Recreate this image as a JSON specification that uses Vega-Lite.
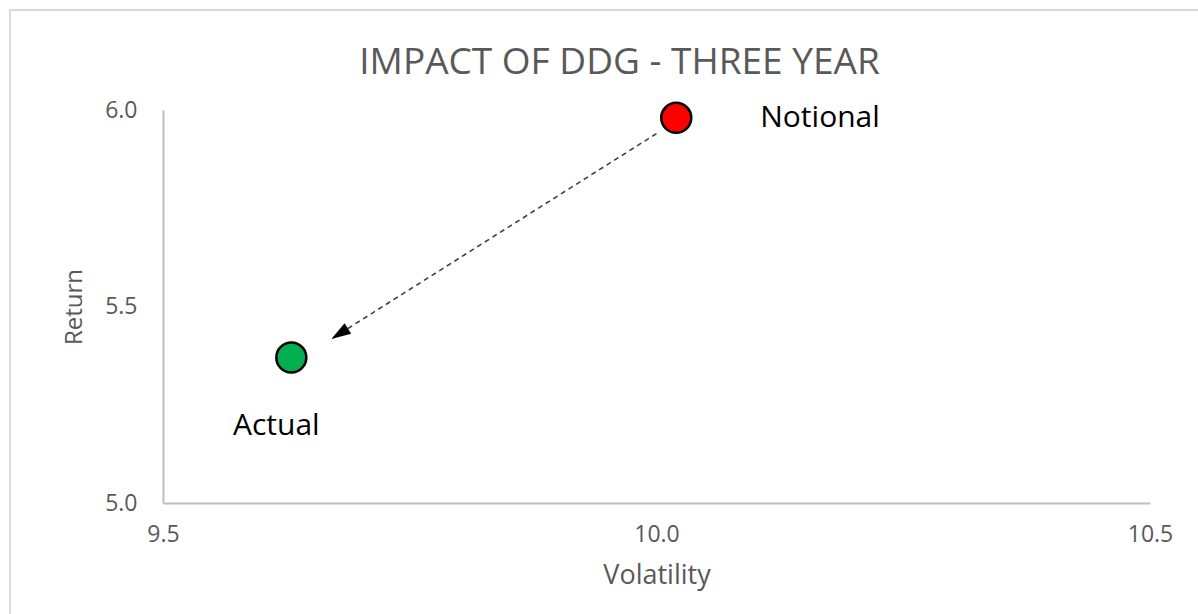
{
  "$schema": "https://vega.github.io/schema/vega-lite/v6.json",
  "width": 987,
  "height": 393,
  "autosize": {"type": "none"},
  "padding": {"left": 163, "top": 110, "right": 48, "bottom": 111},
  "background": "white",
  "title": {
    "text": "IMPACT OF DDG - THREE YEAR",
    "font": "Open Sans",
    "fontSize": 37,
    "fontWeight": "normal",
    "color": "#595959",
    "anchor": "middle",
    "dx": -37,
    "offset": -73
  },
  "datasets": {
    "points": [
      {"series": "Notional", "volatility": 10.02, "return": 5.98},
      {"series": "Actual", "volatility": 9.63, "return": 5.37}
    ],
    "arrow": [
      {"from_vol": 10.0, "from_ret": 5.94, "to_vol": 9.681, "to_ret": 5.434}
    ]
  },
  "config": {
    "view": {"stroke": null},
    "axis": {
      "domainColor": "#bfbfbf",
      "domainWidth": 2,
      "ticks": false,
      "grid": false,
      "labelFlush": false,
      "labelColor": "#595959",
      "labelFont": "Open Sans",
      "labelFontSize": 23,
      "titleColor": "#595959",
      "titleFont": "Open Sans",
      "titleFontSize": 24,
      "titleFontWeight": "normal"
    }
  },
  "layer": [
    {
      "data": {"values": [{}]},
      "mark": {"type": "rect", "fill": null, "stroke": "#d9d9d9", "strokeWidth": 2},
      "encoding": {
        "x": {"datum": 9.345, "type": "quantitative", "scale": {"domain": [9.5, 10.5], "nice": false, "zero": false}},
        "x2": {"datum": 10.6},
        "y": {"datum": 6.2545, "type": "quantitative", "scale": {"domain": [5.0, 6.0], "nice": false, "zero": false}},
        "y2": {"datum": 4.69}
      }
    },
    {
      "data": {"name": "arrow"},
      "mark": {"type": "rule", "color": "#404040", "strokeWidth": 1.6, "strokeDash": [5, 4]},
      "encoding": {
        "x": {"field": "from_vol", "type": "quantitative"},
        "y": {"field": "from_ret", "type": "quantitative"},
        "x2": {"field": "to_vol"},
        "y2": {"field": "to_ret"}
      }
    },
    {
      "data": {"name": "arrow"},
      "mark": {"type": "point", "shape": "M -0.846 0.533 L 0.775 0.103 L 0.241 -0.743 Z", "filled": true, "color": "black", "size": 600, "opacity": 1},
      "encoding": {
        "x": {"field": "to_vol", "type": "quantitative"},
        "y": {"field": "to_ret", "type": "quantitative"}
      }
    },
    {
      "data": {"name": "points"},
      "mark": {"type": "circle", "size": 900, "stroke": "black", "strokeWidth": 2.5, "opacity": 1},
      "encoding": {
        "x": {
          "field": "volatility", "type": "quantitative", "title": "Volatility",
          "scale": {"domain": [9.5, 10.5], "nice": false, "zero": false},
          "axis": {"values": [9.5, 10.0, 10.5], "format": ".1f", "labelPadding": 20, "titlePadding": 16, "titleFontSize": 27}
        },
        "y": {
          "field": "return", "type": "quantitative", "title": "Return",
          "scale": {"domain": [5.0, 6.0], "nice": false, "zero": false},
          "axis": {"values": [5.0, 5.5, 6.0], "format": ".1f", "labelPadding": 26, "titlePadding": 18}
        },
        "color": {
          "field": "series", "type": "nominal",
          "scale": {"domain": ["Notional", "Actual"], "range": ["#ff0000", "#00b050"]},
          "legend": null
        }
      }
    },
    {
      "data": {"name": "points"},
      "transform": [{"filter": "datum.series === 'Notional'"}],
      "mark": {"type": "text", "font": "Open Sans", "fontSize": 30, "color": "black", "align": "left", "baseline": "middle", "dx": 84},
      "encoding": {
        "x": {"field": "volatility", "type": "quantitative"},
        "y": {"field": "return", "type": "quantitative"},
        "text": {"field": "series"}
      }
    },
    {
      "data": {"name": "points"},
      "transform": [{"filter": "datum.series === 'Actual'"}],
      "mark": {"type": "text", "font": "Open Sans", "fontSize": 30, "color": "black", "align": "center", "baseline": "middle", "dx": -15, "dy": 68},
      "encoding": {
        "x": {"field": "volatility", "type": "quantitative"},
        "y": {"field": "return", "type": "quantitative"},
        "text": {"field": "series"}
      }
    }
  ]
}
